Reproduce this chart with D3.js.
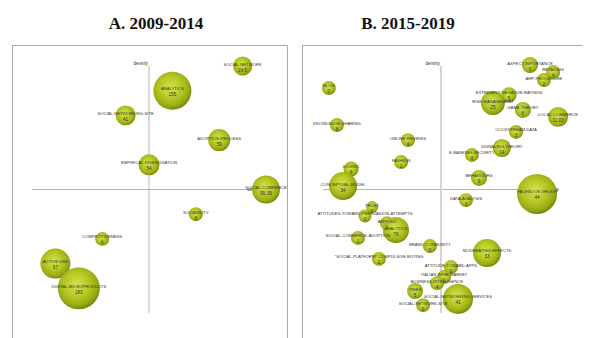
<!DOCTYPE html>
<html lang="en">
<head>
<meta charset="UTF-8">
<title>Strategic diagrams</title>
<script src="https://cdnjs.cloudflare.com/ajax/libs/d3/7.8.5/d3.min.js"></script>
<style>
  body { margin: 0; background: #fff; }
  svg { display: block; }
  .lbl { font-family: "Liberation Sans", Arial, sans-serif; fill: #333; }
  .ttl { font-family: "Liberation Serif", "Times New Roman", serif; font-weight: bold; fill: #111; }
</style>
</head>
<body>
<svg width="599" height="338"></svg>
<script>
// A. 2009-2014 -- centrality / density are rank percentiles, docs sets bubble area
var namesA = ["SOCIAL-NETWORK", "ANALYTICS", "SOCIAL-NETWORKING-SITE", "ADOPTION-PROCESS",
  "EMPIRICAL-INVESTIGATION", "SOCIAL-COMMERCE", "SOCIABILITY", "COMPETITIVENESS",
  "ACTIVE-USE", "DIGITAL-MICROPRODUCTS"];
var valuesA = ["24.5", "155", "41", "59", "54", "95.39", "8", "6", "97", "183"];
var centralityA = [90, 60, 40, 80, 50, 100, 70, 30, 10, 20];
var densityA = [100, 90, 80, 70, 60, 50, 40, 30, 20, 10];
var docsA = [41, 164, 45, 55, 50, 89, 22, 22, 102, 200];

// B. 2015-2019
var namesB = ["BLOG", "KNOWLEDGE-SHARING", "ONLINE-REVIEWS", "FASHION", "DOGNIC",
  "CONCEPTUAL-MODEL", "ASPECT-IMPORTANCE", "RETAILING", "AHP-PROCEDURE",
  "EXTREMELY-NEGATIVE-RATINGS", "RISK-MANAGEMENT", "GAME-THEORY", "LOCAL-COMMERCE",
  "CLICKSTREAM-DATA", "SIGNALING-THEORY", "E-BANKING-SECURITY", "BEHAVIOURS",
  "FACEBOOK-GROUP", "DATA-ANALYSIS", "MODERATING-EFFECTS", "ATTITUDE-TOWARD-APPS",
  "SOCIAL-NETWORKING-SERVICES", "BRAND-COMMUNITY", "ITALIAN-WINE-MARKET",
  "BUSINESS-INTELLIGENCE", "TIMES", "SOCIAL-NETWORK-SITE", "TRUST",
  "ATTITUDES-TOWARD-PERSUASION-ATTEMPTS", "AMPOSO", "ANALYTICS",
  "SOCIAL-COMMERCE-ADOPTION", "\"SOCIAL-PLATFORM\"-COMPULSIVE-BUYING"];
var valuesB = ["0", "8", "4", "1", "8", "34", "5", "4", "2", "5", "25", "8", "11.03",
  "3", "14", "0", "9", "44", "3", "33", "0", "41", "0", "0", "4", "5", "0", "0",
  "0", "1", "76", "1", "2"];
var centralityB = [2.5, 5.9, 36.0, 33.1, 11.9, 8.5, 87.7, 97.5, 93.6, 78.8, 72.0, 84.7,
  99.6, 81.8, 75.8, 63.1, 66.1, 90.7, 60.6, 69.5, 54.2, 57.2, 45.3, 51.3, 48.3, 39.0,
  42.4, 20.8, 17.8, 27.1, 30.9, 14.8, 23.7];
var densityB = [91.1, 76.1, 70.0, 61.1, 58.3, 51.4, 100.4, 97.6, 94.3, 88.3, 85.0, 82.2,
  79.4, 73.3, 66.8, 64.0, 54.7, 48.2, 45.7, 24.3, 18.6, 5.7, 27.1, 14.6, 12.1, 8.9,
  3.2, 42.9, 39.3, 36.4, 33.6, 30.4, 21.9];
var docsB = [22, 22, 22, 22, 26, 89, 29, 22, 22, 26, 65, 29, 45, 22, 37, 22, 29, 181,
  22, 89, 22, 102, 22, 22, 22, 29, 22, 16, 19, 22, 77, 22, 22];

var svg = d3.select("svg");
var defs = svg.append("defs");
var grad = defs.append("radialGradient").attr("id", "ball")
  .attr("cx", "45%").attr("cy", "42%").attr("r", "58%");
grad.append("stop").attr("offset", "0%").attr("stop-color", "#d6e34e");
grad.append("stop").attr("offset", "55%").attr("stop-color", "#b3c521");
grad.append("stop").attr("offset", "85%").attr("stop-color", "#97a912");
grad.append("stop").attr("offset", "100%").attr("stop-color", "#76870a");

var rScale = d3.scaleSqrt().domain([0, 200]).range([0, 21]);

// titles
svg.append("text").attr("class", "ttl").attr("x", 156).attr("y", 29)
  .attr("text-anchor", "middle").style("font-size", "17px").text("A. 2009-2014");
svg.append("text").attr("class", "ttl").attr("x", 408).attr("y", 29)
  .attr("text-anchor", "middle").style("font-size", "17px").text("B. 2015-2019");

// frames
svg.append("path").attr("d", "M12.5,340V45.5H287.5V340")
  .attr("fill", "none").attr("stroke", "#aaa");
svg.append("path").attr("d", "M302.5,340V45.5H582")
  .attr("fill", "none").attr("stroke", "#aaa");

function drawPanel(opt) {
  var x = d3.scaleLinear().domain([0, 100]).range(opt.xr);
  var y = d3.scaleLinear().domain([0, 100]).range([313, 66]);
  var g = svg.append("g");
  var data = opt.names.map(function(n, i) {
    return {name: n, val: opt.values[i], cx: opt.cent[i], dy: opt.dens[i], docs: opt.docs[i]};
  });

  // axes cross at the median
  g.append("line")
    .attr("x1", x(0)).attr("x2", x(100)).attr("y1", y(50)).attr("y2", y(50))
    .attr("stroke", "#b5b5b5").attr("stroke-width", 1);
  g.append("line")
    .attr("x1", x(50)).attr("x2", x(50)).attr("y1", y(100)).attr("y2", y(0))
    .attr("stroke", opt.vcol).attr("stroke-width", opt.vw);
  g.append("text").attr("class", "lbl").attr("x", x(50) - 1).attr("y", y(100) - 1)
    .attr("text-anchor", "end").style("font-size", "4.6px").text("density");
  g.append("text").attr("class", "lbl").attr("x", x(92)).attr("y", y(50) + 1.5)
    .style("font-size", "4.6px").text("centrality");

  g.selectAll("circle").data(data).enter().append("circle")
    .attr("cx", function(d) { return x(d.cx); })
    .attr("cy", function(d) { return y(d.dy); })
    .attr("r", function(d) { return rScale(d.docs); })
    .attr("fill", "url(#ball)");

  g.selectAll(".nm").data(data).enter().append("text")
    .attr("class", "lbl nm")
    .attr("x", function(d) { return x(d.cx); })
    .attr("y", function(d) { return y(d.dy) - 0.5; })
    .attr("text-anchor", "middle")
    .style("font-size", "4.2px")
    .text(function(d) { return d.name; });
  g.selectAll(".vl").data(data).enter().append("text")
    .attr("class", "lbl vl")
    .attr("x", function(d) { return x(d.cx); })
    .attr("y", function(d) { return y(d.dy) + 5.5; })
    .attr("text-anchor", "middle")
    .style("font-size", "4.6px")
    .text(function(d) { return d.val; });
}

drawPanel({names: namesA, values: valuesA, cent: centralityA, dens: densityA, docs: docsA,
  xr: [32, 266], vcol: "#b5b5b5", vw: 1});
drawPanel({names: namesB, values: valuesB, cent: centralityB, dens: densityB, docs: docsB,
  xr: [323, 559], vcol: "#d4d4d4", vw: 2});
</script>
</body>
</html>
